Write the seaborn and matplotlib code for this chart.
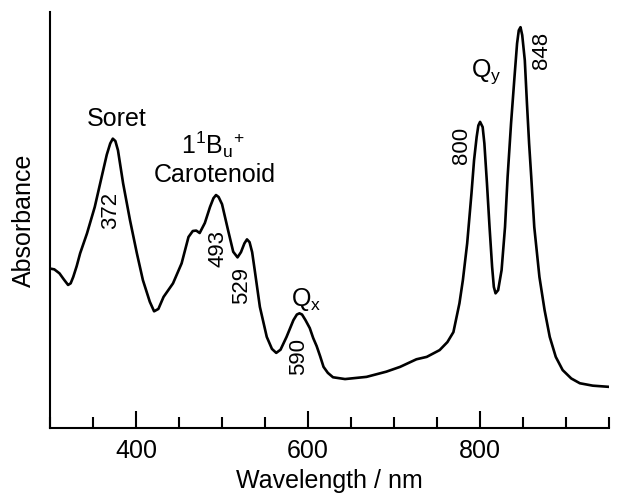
import matplotlib
matplotlib.use("Agg")
import matplotlib.pyplot as plt
from matplotlib.ticker import MultipleLocator, NullLocator
import seaborn as sns
import pandas as pd

# spectrum (wavelength in nm, absorbance in arbitrary units)
wavelength = [300, 305, 311, 316, 321, 324, 327, 331, 335, 343, 352, 360, 366, 370, 373,
              376, 379, 385, 393, 401, 408, 416, 421, 426, 432, 443, 453, 461, 466, 470,
              474, 480, 486, 490, 493, 496, 500, 507, 513, 518, 522, 526, 529, 532, 535,
              538, 544, 552, 558, 563, 568, 575, 583, 587, 590, 593, 597, 602, 606, 610,
              614, 618, 623, 629, 643, 668, 691, 707, 726, 738, 753, 762, 769, 776, 780,
              785, 790, 793, 796, 798, 800, 803, 805, 808, 811, 814, 816, 818, 821, 825,
              829, 832, 836, 840, 843, 845, 847, 849, 852, 854.5, 857, 859.5, 863, 869, 875,
              881, 888, 896, 906, 916, 931, 950]
absorbance = [0.399, 0.397, 0.387, 0.372, 0.358, 0.362, 0.378, 0.405, 0.437, 0.487, 0.553,
              0.628, 0.684, 0.712, 0.724, 0.718, 0.695, 0.612, 0.520, 0.437, 0.370, 0.316,
              0.292, 0.298, 0.328, 0.362, 0.412, 0.478, 0.493, 0.494, 0.488, 0.513, 0.553,
              0.575, 0.583, 0.578, 0.560, 0.495, 0.441, 0.427, 0.440, 0.462, 0.472, 0.465,
              0.440, 0.395, 0.303, 0.228, 0.198, 0.188, 0.196, 0.228, 0.270, 0.284, 0.287,
              0.284, 0.270, 0.250, 0.225, 0.205, 0.180, 0.153, 0.138, 0.127, 0.1225, 0.128,
              0.141, 0.153, 0.172, 0.178, 0.195, 0.215, 0.240, 0.312, 0.370, 0.462, 0.587,
              0.670, 0.728, 0.757, 0.766, 0.753, 0.712, 0.612, 0.503, 0.403, 0.353, 0.337,
              0.345, 0.395, 0.503, 0.628, 0.762, 0.878, 0.962, 0.995, 1.003, 0.983, 0.920,
              0.812, 0.712, 0.628, 0.503, 0.378, 0.295, 0.228, 0.178, 0.145, 0.124, 0.112,
              0.106, 0.103]

# band names and peak positions
band_labels = ["Soret", "1$^{1}$B$_{\\mathrm{u}}$$^{+}$", "Carotenoid", "Q$_{\\mathrm{x}}$", "Q$_{\\mathrm{y}}$"]
band_x = [377, 489, 491, 598, 807]
band_y = [0.772, 0.708, 0.632, 0.322, 0.892]
peak_labels = ["372", "493", "529", "590", "800", "848"]
peak_x = [371, 495.6, 522.8, 588.5, 778.3, 871.2]
peak_y = [0.545, 0.449, 0.357, 0.178, 0.707, 0.945]

sns.set_theme(style="ticks")
plt.rcParams['font.family'] = ['Liberation Sans', 'DejaVu Sans']
plt.rcParams['mathtext.fontset'] = 'custom'
plt.rcParams['mathtext.rm'] = 'Liberation Sans'
plt.rcParams['mathtext.it'] = 'Liberation Sans'
plt.rcParams['mathtext.bf'] = 'Liberation Sans:bold'
plt.rcParams['text.color'] = 'black'
plt.rcParams['axes.labelcolor'] = 'black'
plt.rcParams['xtick.color'] = 'black'
plt.rcParams['xtick.labelcolor'] = 'black'

df = pd.DataFrame({'wl': wavelength, 'A': absorbance})

fig = plt.figure(figsize=(6.19, 4.93), dpi=100)
ax = fig.add_axes([0.0808, 0.1318, 0.9032, 0.8439])
sns.lineplot(data=df, x='wl', y='A', color='black', linewidth=1.9, ax=ax, sort=False)

ax.set_xlim(300, 950)
ax.set_ylim(0, 1.041)
sns.despine(ax=ax)
for side in ['left', 'bottom']:
    ax.spines[side].set_linewidth(1.5)
    ax.spines[side].set_color('black')

ax.set_xticks([400, 600, 800])
ax.xaxis.set_minor_locator(MultipleLocator(50))
ax.tick_params(axis='x', which='major', direction='in', length=12, width=1.5,
               color='black', labelsize=18, pad=8)
ax.tick_params(axis='x', which='minor', direction='in', length=8, width=1.5, color='black')
ax.yaxis.set_major_locator(NullLocator())
ax.yaxis.set_minor_locator(NullLocator())

ax.set_xlabel('Wavelength / nm', fontsize=18, labelpad=4)
ax.set_ylabel('Absorbance', fontsize=18, labelpad=10)

for lab, x, y in zip(band_labels, band_x, band_y):
    ax.text(x, y, lab, fontsize=18, ha='center', va='center')
for lab, x, y in zip(peak_labels, peak_x, peak_y):
    ax.text(x, y, lab, fontsize=16, ha='center', va='center', rotation=90)

fig.savefig('out.png', dpi=100)
